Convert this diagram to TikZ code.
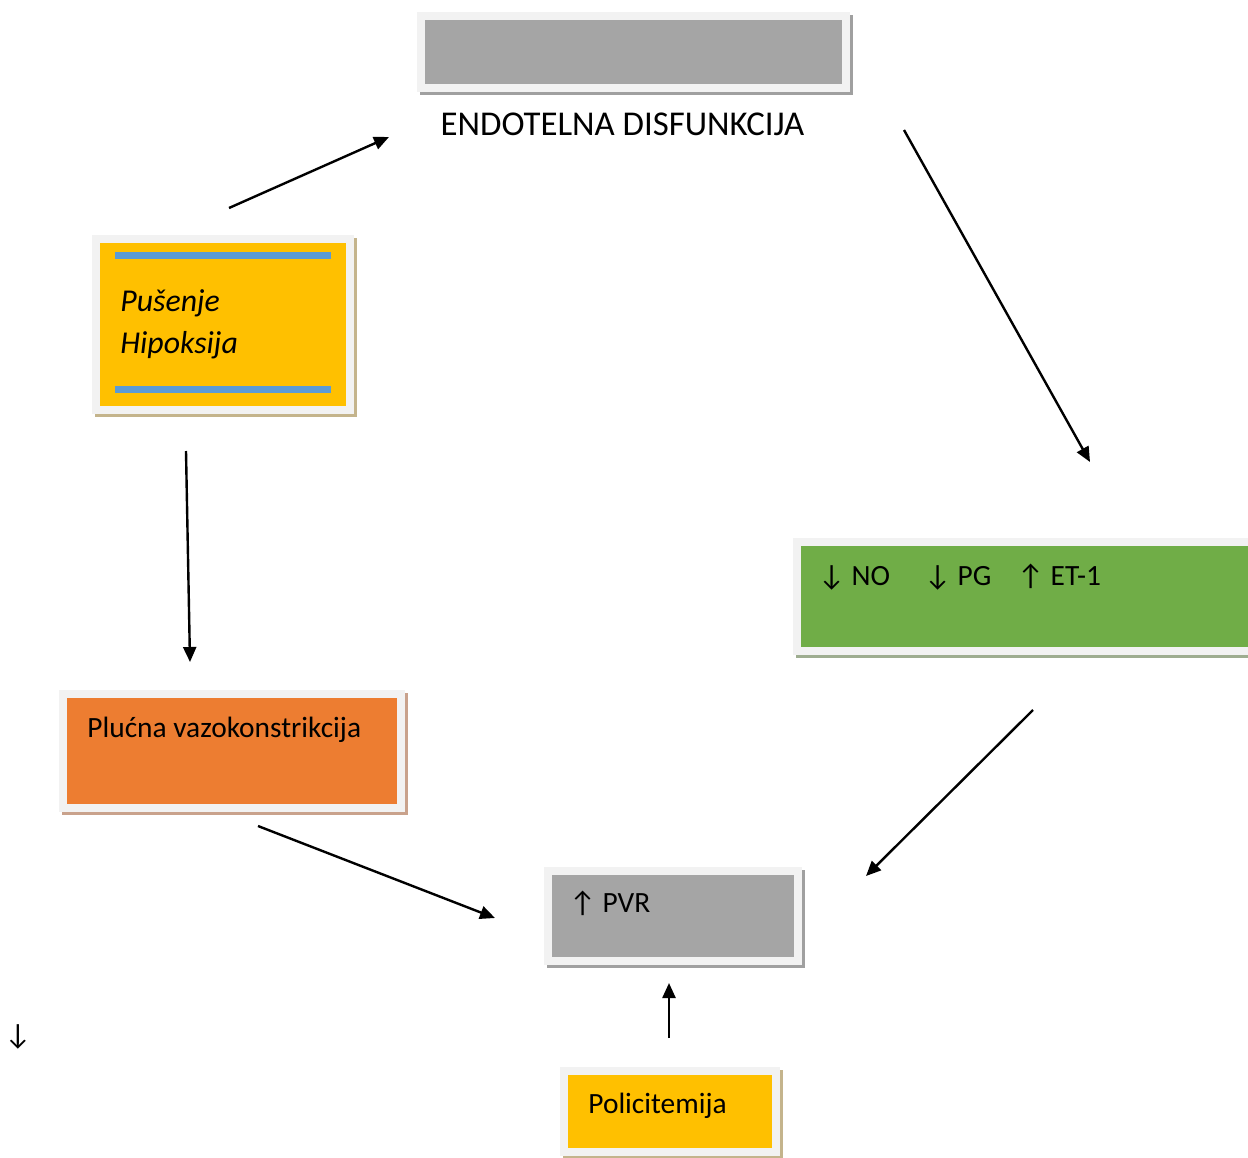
\documentclass[tikz,border=0pt]{standalone}
\usepackage{fontspec}
\setmainfont{Carlito}
\usetikzlibrary{arrows.meta,shadows}
\definecolor{framegray}{HTML}{F2F2F2}
\definecolor{boxgray}{HTML}{A5A5A5}
\definecolor{boxyellow}{HTML}{FFC000}
\definecolor{boxgreen}{HTML}{70AD47}
\definecolor{boxorange}{HTML}{ED7D31}
\definecolor{barblue}{HTML}{5B9BD5}
\definecolor{shgray}{HTML}{A0A0A0}
\definecolor{shtan}{HTML}{C4B48C}
\definecolor{shgreen}{HTML}{9EAD90}
\definecolor{shorange}{HTML}{C9A28C}
\tikzset{
  framebox/.style 2 args={fill=framegray,inner sep=0pt,outer sep=0pt,anchor=north west,
    drop shadow={shadow xshift=1.5pt,shadow yshift=-1.5pt,opacity=1,fill=#2},
    path picture={\fill[#1] ([shift={(4pt,-4pt)}]path picture bounding box.north west)
      rectangle ([shift={(-4pt,4pt)}]path picture bounding box.south east);}},
  boxtext/.style={anchor=base west,inner sep=0pt,font=\fontsize{14.7}{18}\selectfont},
  flow/.style={line width=1.2pt,-{Triangle[length=7.5pt,width=6.5pt]}}
}
\begin{document}
\begin{tikzpicture}[x=0.5pt,y=-0.5pt]
  \useasboundingbox (0,0) rectangle (1248,1157);
  %% boxes
  \node[framebox={boxgray}{shgray},minimum width=216.5pt,minimum height=40pt] (endo) at (417,12) {};
  \node[framebox={boxyellow}{shtan},minimum width=131pt,minimum height=89.5pt] (smoke) at (92,235) {};
  \fill[barblue] (115,252) rectangle (331,259);
  \fill[barblue] (115,386) rectangle (331,393);
  \node[framebox={boxgreen}{shgreen},minimum width=240pt,minimum height=58.5pt] (media) at (793,538) {};
  \node[framebox={boxorange}{shorange},minimum width=173pt,minimum height=61pt] (vaso) at (59,690) {};
  \node[framebox={boxgray}{shgray},minimum width=129pt,minimum height=49pt] (pvr) at (544,867) {};
  \node[framebox={boxyellow}{shtan},minimum width=110pt,minimum height=44.5pt] (poly) at (560,1067) {};
  %% labels
  \node[boxtext,anchor=base,font=\fontsize{17.4}{20}\selectfont] (endolbl) at (622.5,135) {ENDOTELNA DISFUNKCIJA};
  \node[boxtext,font=\fontsize{15.9}{19}\selectfont\itshape] (smokelbl) at (120,311) {Pušenje};
  \node[boxtext,font=\fontsize{15.9}{19}\selectfont\itshape] (hypolbl) at (120,353) {Hipoksija};
  \node[boxtext] (nolbl) at (818,585) {↓ NO};
  \node[boxtext] (pglbl) at (924,585) {↓ PG};
  \node[boxtext] (etlbl) at (1017,585) {↑ ET-1};
  \node[boxtext] (vasolbl) at (87,737) {Plućna vazokonstrikcija};
  \node[boxtext] (pvrlbl) at (569,912) {↑ PVR};
  \node[boxtext] (polylbl) at (588,1113) {Policitemija};
  \node[boxtext,anchor=base] (stray) at (18,1044) {↓};
  %% arrow ends
  \coordinate (a1) at (229,208);  \coordinate (b1) at (389,137);
  \coordinate (a2) at (904,130);  \coordinate (b2) at (1090,462);
  \coordinate (a3) at (186,451);  \coordinate (b3) at (190,662);
  \coordinate (a4) at (1033,710); \coordinate (b4) at (866,876);
  \coordinate (a5) at (258,826);  \coordinate (b5) at (495,918);
  \coordinate (a6) at (669,1038); \coordinate (b6) at (669,983);
  %% arrows
  \foreach \i in {1,...,6}
    \draw[flow] (a\i) -- (b\i);
\end{tikzpicture}
\end{document}
